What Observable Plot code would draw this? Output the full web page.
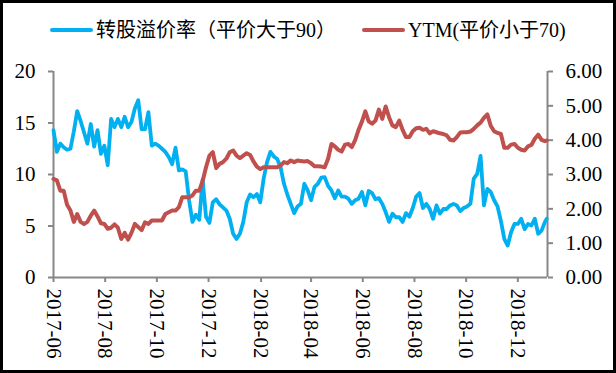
<!DOCTYPE html>
<html><head><meta charset="utf-8">
<script src="https://cdn.jsdelivr.net/npm/d3@7"></script>
<script src="https://cdn.jsdelivr.net/npm/@observablehq/plot@0.6"></script>
<style>
body{margin:0;background:#fff;}
#wrap{width:616px;height:373px;box-sizing:border-box;border:3px solid #000;overflow:hidden;background:#fff;
  font-family:"Liberation Serif","Times New Roman","Noto Sans CJK SC",serif;}
#legend{position:relative;height:47px;}
.sw{position:absolute;height:4px;width:43px;border-radius:2px;top:25px;}
.lt{position:absolute;top:13px;line-height:28px;font-size:20px;color:#000;white-space:nowrap;}
#chart svg{display:block;}
</style></head>
<body>
<div id="wrap">
  <div id="legend">
    <div class="sw" style="left:47px;background:#00B0F0"></div>
    <div class="lt" style="left:93px">转股溢价率（平价大于90）</div>
    <div class="sw" style="left:359px;background:#C0504D"></div>
    <div class="lt" style="left:405px">YTM(平价小于70)</div>
  </div>
  <div id="chart"></div>
</div>
<script>
const seriesNames = ["转股溢价率（平价大于90）", "YTM(平价小于70)"];
const dates = [
"2017-06-01","2017-06-05","2017-06-09","2017-06-13","2017-06-17","2017-06-21","2017-06-25","2017-06-29",
"2017-07-03","2017-07-07","2017-07-11","2017-07-15","2017-07-19","2017-07-23","2017-07-27","2017-07-31",
"2017-08-04","2017-08-08","2017-08-12","2017-08-16","2017-08-20","2017-08-24","2017-08-28",
"2017-09-01","2017-09-05","2017-09-09","2017-09-13","2017-09-17","2017-09-21","2017-09-25","2017-09-29",
"2017-10-03","2017-10-07","2017-10-11","2017-10-15","2017-10-19","2017-10-23","2017-10-27","2017-10-31",
"2017-11-04","2017-11-08","2017-11-12","2017-11-16","2017-11-20","2017-11-24","2017-11-28",
"2017-12-02","2017-12-06","2017-12-10","2017-12-14","2017-12-18","2017-12-22","2017-12-26","2017-12-30",
"2018-01-03","2018-01-07","2018-01-11","2018-01-15","2018-01-19","2018-01-23","2018-01-27","2018-01-31",
"2018-02-04","2018-02-08","2018-02-12","2018-02-16","2018-02-20","2018-02-24","2018-02-28",
"2018-03-04","2018-03-08","2018-03-12","2018-03-16","2018-03-20","2018-03-24","2018-03-28",
"2018-04-01","2018-04-05","2018-04-09","2018-04-13","2018-04-17","2018-04-21","2018-04-25","2018-04-29",
"2018-05-03","2018-05-07","2018-05-11","2018-05-15","2018-05-19","2018-05-23","2018-05-27","2018-05-31",
"2018-06-04","2018-06-08","2018-06-12","2018-06-16","2018-06-20","2018-06-24","2018-06-28",
"2018-07-02","2018-07-06","2018-07-10","2018-07-14","2018-07-18","2018-07-22","2018-07-26","2018-07-30",
"2018-08-03","2018-08-07","2018-08-11","2018-08-15","2018-08-19","2018-08-23","2018-08-27","2018-08-31",
"2018-09-04","2018-09-08","2018-09-12","2018-09-16","2018-09-20","2018-09-24","2018-09-28",
"2018-10-02","2018-10-06","2018-10-10","2018-10-14","2018-10-18","2018-10-22","2018-10-26","2018-10-30",
"2018-11-03","2018-11-07","2018-11-11","2018-11-15","2018-11-19","2018-11-23","2018-11-27",
"2018-12-01","2018-12-05","2018-12-09","2018-12-13","2018-12-17","2018-12-21","2018-12-25","2018-12-29",
"2019-01-02","2019-01-04"];
const premium = [
14.3,12.2,13.0,12.65,12.4,12.5,14.2,16.15,15.2,14.1,
13.0,14.9,12.7,14.3,12.0,12.8,10.9,15.4,14.6,15.4,
14.6,15.6,14.6,15.1,16.4,17.2,14.4,14.4,16.05,12.8,
13.0,12.8,12.5,12.2,11.7,11.0,12.6,10.4,10.5,10.3,
7.5,5.4,6.1,5.6,9.5,5.9,5.3,7.3,7.6,7.1,
6.8,6.5,5.7,4.25,3.75,4.25,5.4,7.3,8.05,7.8,
8.1,7.3,9.6,11.2,12.2,11.75,11.5,10.7,9.1,8.05,
7.15,6.25,6.9,7.15,9.1,8.45,7.5,8.8,9.1,9.7,
9.75,8.9,8.45,7.7,8.45,7.85,7.85,7.65,7.15,7.5,
7.65,8.3,7.0,8.4,8.2,7.6,7.7,7.15,6.35,5.4,
6.2,5.85,5.85,5.4,6.25,5.9,6.75,7.85,8.2,6.75,
7.15,6.65,5.7,7.0,6.2,6.65,6.65,7.0,7.15,7.0,
6.45,6.75,6.9,7.15,9.6,10.05,11.8,7.0,8.6,8.3,
7.5,6.9,5.5,3.75,3.1,4.4,5.2,5.2,5.7,4.7,
5.2,5.05,5.7,4.25,4.55,5.4,5.7];
const ytm = [
2.87,2.83,2.53,2.53,2.12,1.95,1.62,1.85,1.62,1.56,
1.62,1.80,1.95,1.78,1.58,1.56,1.42,1.45,1.55,1.45,
1.12,1.30,1.10,1.30,1.56,1.47,1.38,1.61,1.56,1.66,
1.66,1.66,1.66,1.85,1.90,1.95,1.95,2.05,2.34,2.34,
2.34,2.39,2.53,2.53,2.81,3.21,3.55,3.65,3.19,3.31,
3.36,3.46,3.65,3.70,3.55,3.48,3.55,3.62,3.57,3.38,
3.23,3.16,3.21,3.21,3.21,3.21,3.21,3.26,3.36,3.33,
3.41,3.36,3.41,3.39,3.38,3.39,3.33,3.24,3.24,3.23,
3.21,3.45,3.89,3.82,3.72,3.67,3.87,3.89,3.80,4.00,
4.30,4.54,4.84,4.55,4.48,4.57,4.89,4.62,4.98,4.67,
4.43,4.38,4.57,4.30,4.09,4.09,4.26,4.35,4.36,4.30,
4.33,4.20,4.26,4.23,4.20,4.18,4.14,4.01,3.99,4.09,
4.22,4.23,4.23,4.25,4.33,4.43,4.51,4.65,4.75,4.42,
4.26,4.21,4.18,3.78,3.78,3.87,3.89,3.78,3.72,3.70,
3.82,3.86,4.04,4.16,4.01,3.97,3.99];
const xTicks = ["2017-06-01","2017-08-01","2017-10-01","2017-12-01","2018-02-01","2018-04-01",
                "2018-06-01","2018-08-01","2018-10-01","2018-12-01"];
const xDomain = ["2017-06-01","2019-01-05"];
const leftTicks = [0,5,10,15,20];
const rightTicks = [0,1,2,3,4,5,6];
const leftMax = 20, rightMax = 6;

const parse = d3.utcParse("%Y-%m-%d");
const ratio = leftMax / rightMax;
const blueData = dates.map((d,i) => ({date: parse(d), v: premium[i]}));
const redData = dates.map((d,i) => ({date: parse(d), v: ytm[i]}));
const axisColor = "#878787";
const x0 = parse(xDomain[0]), x1 = parse(xDomain[1]);

const chart = Plot.plot({
  width: 610, height: 320,
  marginLeft: 50, marginRight: 66, marginTop: 21, marginBottom: 93,
  style: {fontFamily: '"Liberation Serif","Times New Roman",serif', fontSize: "21px", color: "#000", background: "#fff", overflow: "visible"},
  x: {type: "utc", domain: [x0, x1]},
  y: {domain: [0, leftMax]},
  marks: [
    Plot.ruleX([x0, x1], {stroke: axisColor, strokeWidth: 2}),
    Plot.ruleY([0], {stroke: axisColor, strokeWidth: 2}),
    Plot.axisY({anchor: "left", ticks: leftTicks, tickSize: 5, tickPadding: 13, stroke: axisColor, strokeWidth: 2, fill: "#000", label: null}),
    Plot.axisY({anchor: "right", ticks: rightTicks.map(t => t * ratio), tickFormat: d => (d / ratio).toFixed(2), tickSize: 5, tickPadding: 13, stroke: axisColor, strokeWidth: 2, fill: "#000", label: null}),
    Plot.axisX({anchor: "bottom", ticks: xTicks.map(parse), tickFormat: d3.utcFormat("%Y-%m"), tickSize: 5, tickPadding: 6, tickRotate: 90, stroke: axisColor, strokeWidth: 2, fill: "#000", label: null}),
    Plot.lineY(blueData, {x: "date", y: "v", stroke: "#00B0F0", strokeWidth: 3.8, strokeLinejoin: "round", strokeLinecap: "round"}),
    Plot.lineY(redData, {x: "date", y: d => d.v * ratio, stroke: "#C0504D", strokeWidth: 4, strokeLinejoin: "round", strokeLinecap: "round"})
  ]
});
document.getElementById("chart").appendChild(chart);
</script>
</body></html>
